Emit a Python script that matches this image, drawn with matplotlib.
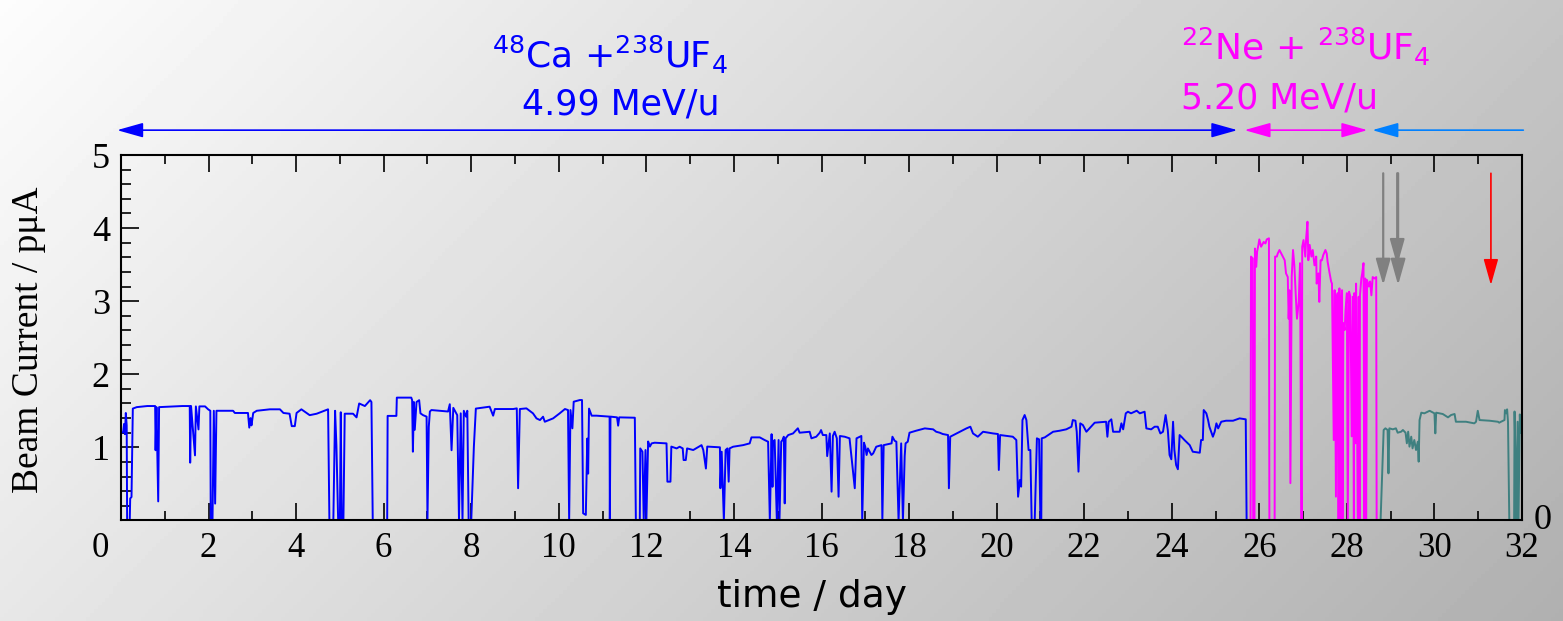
import numpy as np
import matplotlib
matplotlib.use("Agg")
import matplotlib.pyplot as plt
from matplotlib.transforms import ScaledTranslation
from matplotlib.ticker import MultipleLocator

# beam current (pmuA) vs time (day)
blue_pts = [
    (0.02, 1.20), (0.05, 1.21), (0.07, 1.32), (0.09, 1.18), (0.11, 1.47), (0.13, 1.30),
    (0.14, 0.0), (0.20, 0.0), (0.21, 0.30), (0.24, 0.32), (0.27, 1.53), (0.36, 1.55),
    (0.60, 1.565), (0.78, 1.565), (0.79, 0.96), (0.81, 1.55), (0.85, 0.26), (0.87, 1.55),
    (1.2, 1.56), (1.4, 1.565), (1.57, 1.565), (1.58, 0.79), (1.60, 1.565), (1.69, 0.89),
    (1.71, 1.56), (1.77, 1.245), (1.79, 1.56), (1.92, 1.56), (1.99, 1.52), (2.04, 1.50),
    (2.05, 0.0), (2.09, 0.0), (2.12, 1.50), (2.15, 0.23), (2.18, 1.50), (2.56, 1.50),
    (2.60, 1.47), (2.90, 1.47), (2.93, 1.27), (2.96, 1.40), (2.98, 1.30), (3.02, 1.47),
    (3.10, 1.50), (3.40, 1.52), (3.63, 1.52), (3.71, 1.47), (3.85, 1.46), (3.90, 1.29),
    (3.97, 1.29), (4.01, 1.47), (4.12, 1.52), (4.31, 1.44), (4.47, 1.46), (4.73, 1.52),
    (4.76, 0.0), (4.85, 0.0), (4.89, 1.50), (4.92, 1.03), (4.96, 0.0), (5.0, 0.0),
    (5.02, 1.48), (5.04, 0.0), (5.08, 0.0), (5.11, 1.46), (5.30, 1.46), (5.38, 1.41),
    (5.44, 1.60), (5.57, 1.565), (5.69, 1.645), (5.72, 1.62), (5.75, 0.0), (6.08, 0.0),
    (6.09, 1.43), (6.29, 1.43), (6.30, 1.68), (6.63, 1.68), (6.65, 1.645), (6.667, 0.94),
    (6.69, 1.62), (6.71, 1.24), (6.75, 1.62), (6.81, 1.645), (6.84, 1.465), (6.90, 1.44),
    (6.98, 1.42), (7.0, 0.0), (7.03, 1.28), (7.055, 1.49), (7.09, 1.51), (7.47, 1.49),
    (7.51, 1.59), (7.55, 0.96), (7.59, 1.54), (7.68, 1.44), (7.72, 0.0), (7.76, 1.465),
    (7.80, 0.0), (7.83, 1.50), (7.88, 1.42), (7.91, 1.50), (7.94, 0.0), (8.0, 0.0),
    (8.06, 1.01), (8.105, 1.53), (8.42, 1.556), (8.50, 1.433), (8.54, 1.524), (8.96, 1.524),
    (9.04, 1.533), (9.07, 0.44), (9.11, 1.524), (9.26, 1.533), (9.41, 1.465), (9.49, 1.396),
    (9.57, 1.373), (9.64, 1.419), (9.68, 1.35), (9.87, 1.396), (10.02, 1.465), (10.14, 1.524),
    (10.21, 1.51), (10.236, 0.0), (10.266, 1.51), (10.31, 1.26), (10.34, 1.624), (10.48, 1.647),
    (10.53, 1.647), (10.556, 0.097), (10.617, 0.075), (10.65, 1.12), (10.67, 0.64), (10.69, 1.53),
    (10.75, 1.433), (10.86, 1.433), (11.16, 1.42), (11.165, 0.0), (11.18, 1.42), (11.33, 1.41),
    (11.355, 1.296), (11.38, 1.41), (11.736, 1.405), (11.76, 0.0), (11.85, 0.0),
    (11.86, 0.985), (11.91, 0.94), (11.94, 0.0), (11.98, 0.963), (12.0, 0.0), (12.04, 1.08),
    (12.08, 1.01), (12.12, 1.054), (12.19, 1.063), (12.46, 1.054), (12.48, 0.53), (12.55, 0.53),
    (12.57, 1.01), (12.69, 0.985), (12.76, 1.008), (12.83, 0.985), (12.85, 0.826), (12.90, 0.826),
    (12.93, 0.985), (13.07, 0.963), (13.26, 1.03), (13.30, 0.963), (13.36, 0.71), (13.39, 1.01),
    (13.68, 1.0), (13.69, 0.44), (13.72, 0.94), (13.75, 0.35), (13.77, 0.0), (13.81, 0.963),
    (13.85, 0.985), (13.88, 0.53), (13.90, 0.985), (13.98, 1.008), (14.21, 1.03), (14.36, 1.054),
    (14.40, 1.136), (14.59, 1.136), (14.70, 1.10), (14.78, 1.077), (14.82, 0.0), (14.86, 1.18),
    (14.88, 0.46), (14.89, 1.077), (14.93, 1.10), (14.98, 0.0), (15.02, 1.10), (15.04, 0.0),
    (15.08, 1.077), (15.11, 1.10), (15.14, 1.145), (15.16, 0.233), (15.18, 1.123), (15.24, 1.168),
    (15.35, 1.19), (15.46, 1.26), (15.50, 1.20), (15.73, 1.213), (15.77, 1.123), (15.88, 1.145),
    (15.96, 1.20), (15.99, 1.236), (16.03, 1.168), (16.11, 1.168), (16.13, 0.88), (16.19, 1.19),
    (16.23, 0.393), (16.26, 1.155), (16.30, 1.213), (16.35, 1.123), (16.39, 0.324), (16.42, 1.155),
    (16.53, 1.145), (16.64, 1.123), (16.76, 0.44), (16.80, 1.123), (16.91, 1.155), (16.93, 0.0),
    (16.97, 1.063), (17.00, 1.008), (17.03, 0.895), (17.06, 0.985), (17.14, 0.895), (17.18, 0.917),
    (17.25, 1.008), (17.37, 1.03), (17.39, 0.0), (17.42, 1.03), (17.60, 1.054), (17.62, 1.145),
    (17.67, 1.09), (17.71, 1.077), (17.76, 0.0), (17.82, 1.054), (17.86, 0.0), (17.90, 0.88),
    (17.92, 1.054), (17.97, 1.077), (18.01, 1.20), (18.16, 1.227), (18.36, 1.259), (18.55, 1.246),
    (18.62, 1.213), (18.70, 1.20), (18.77, 1.182), (18.89, 1.168), (18.91, 0.44), (18.94, 1.145),
    (19.12, 1.20), (19.31, 1.259), (19.40, 1.282), (19.46, 1.19), (19.57, 1.145), (19.69, 1.213),
    (19.92, 1.19), (20.03, 1.182), (20.05, 0.69), (20.08, 1.168), (20.37, 1.145), (20.45, 1.10),
    (20.49, 0.324), (20.53, 0.553), (20.56, 0.462), (20.59, 1.373), (20.64, 1.442), (20.68, 1.373),
    (20.73, 0.963), (20.77, 0.963), (20.80, 0.0), (20.87, 0.0), (20.92, 1.123), (20.97, 1.109),
    (21.0, 0.0), (21.02, 0.0),
    (21.03, 1.123), (21.10, 1.136), (21.29, 1.213), (21.44, 1.227), (21.59, 1.246), (21.71, 1.282),
    (21.74, 1.373), (21.80, 1.364), (21.83, 1.213), (21.87, 0.667), (21.91, 1.328), (21.97, 1.305),
    (22.05, 1.213), (22.12, 1.259), (22.24, 1.337), (22.50, 1.35), (22.53, 1.145), (22.56, 1.35),
    (22.62, 1.383), (22.66, 1.213), (22.81, 1.213), (22.85, 1.328), (22.89, 1.246), (22.95, 1.465),
    (23.0, 1.487), (23.07, 1.465), (23.15, 1.487), (23.20, 1.501), (23.27, 1.465), (23.38, 1.487),
    (23.42, 1.259), (23.53, 1.246), (23.61, 1.282), (23.68, 1.282), (23.74, 1.19), (23.80, 1.213),
    (23.86, 1.442), (23.91, 1.236), (23.95, 0.895), (23.99, 0.836), (24.03, 1.35), (24.06, 0.963),
    (24.10, 0.758), (24.14, 0.70), (24.18, 1.168), (24.22, 1.145), (24.29, 1.10), (24.41, 1.03),
    (24.48, 0.94), (24.64, 0.926), (24.67, 1.10), (24.71, 1.10), (24.73, 1.51), (24.79, 1.465),
    (24.83, 1.373), (24.86, 1.282), (24.94, 1.145), (24.98, 1.213), (25.02, 1.328), (25.06, 1.259),
    (25.13, 1.35), (25.24, 1.364), (25.40, 1.364), (25.55, 1.396), (25.69, 1.383), (25.71, 0.0),
]

magenta_pts = [
    (25.80, 0.0), (25.81, 3.61), (25.85, 3.585), (25.86, 0.0), (25.89, 0.0), (25.90, 3.72),
    (25.93, 3.47), (25.95, 3.68), (25.98, 3.77), (26.0, 3.845), (26.04, 3.745), (26.10, 3.81),
    (26.14, 3.79), (26.17, 3.845), (26.22, 3.86), (26.23, 0.0), (26.35, 0.0), (26.36, 3.61),
    (26.40, 3.61), (26.42, 3.65), (26.46, 3.70), (26.52, 3.63), (26.58, 3.56), (26.61, 3.38),
    (26.65, 3.33), (26.67, 2.76), (26.69, 3.15), (26.71, 0.51), (26.74, 3.33), (26.77, 3.70),
    (26.80, 3.49), (26.84, 2.99), (26.86, 2.76), (26.90, 2.99), (26.93, 3.52), (26.96, 0.0),
    (26.97, 0.0), (26.98, 3.745), (27.01, 3.836), (27.05, 3.61), (27.07, 3.86), (27.10, 4.087),
    (27.12, 3.56), (27.15, 3.77), (27.19, 3.61), (27.22, 3.70), (27.26, 3.49), (27.30, 3.61),
    (27.31, 3.24), (27.35, 3.38), (27.37, 2.99), (27.40, 3.56), (27.43, 3.56), (27.46, 3.63),
    (27.51, 3.70), (27.54, 3.65), (27.56, 3.54), (27.60, 3.40), (27.64, 3.27), (27.66, 3.24),
    (27.70, 1.10), (27.72, 3.15), (27.75, 0.325), (27.77, 3.05), (27.79, 3.11), (27.81, 0.0),
    (27.83, 3.175), (27.85, 0.0), (27.87, 2.88), (27.89, 3.15), (27.90, 0.0), (27.92, 2.70),
    (27.95, 2.605), (27.97, 2.88), (28.0, 3.11), (28.02, 0.0), (28.05, 3.13), (28.08, 3.06),
    (28.11, 1.15), (28.14, 3.06), (28.16, 0.0), (28.17, 3.11), (28.20, 1.055), (28.21, 3.24),
    (28.25, 0.0), (28.27, 3.06), (28.29, 0.0), (28.30, 3.08), (28.33, 3.31), (28.35, 3.38),
    (28.38, 3.52), (28.40, 0.0), (28.42, 3.31), (28.44, 0.0), (28.46, 3.29), (28.50, 3.20),
    (28.53, 3.27), (28.56, 3.08), (28.59, 3.33), (28.63, 3.31), (28.67, 3.33), (28.68, 0.0),
]

teal_pts = [
    (28.77, 0.0), (28.84, 1.237), (28.88, 1.26), (28.93, 1.237), (28.95, 0.644), (28.97, 1.26),
    (29.05, 1.246), (29.12, 1.26), (29.16, 1.20), (29.24, 1.214), (29.28, 1.237), (29.34, 1.20),
    (29.37, 1.055), (29.40, 1.214), (29.43, 1.009), (29.47, 1.146), (29.50, 0.986), (29.54, 1.10),
    (29.58, 0.963), (29.62, 1.077), (29.64, 0.804), (29.66, 1.373), (29.70, 1.474), (29.77, 1.465),
    (29.89, 1.50), (30.0, 1.465), (30.02, 1.191), (30.04, 1.474), (30.19, 1.456), (30.31, 1.41),
    (30.38, 1.442), (30.46, 1.456), (30.49, 1.35), (30.72, 1.35), (30.91, 1.328), (30.95, 1.35),
    (30.99, 1.50), (31.03, 1.373), (31.26, 1.364), (31.45, 1.35), (31.48, 1.337), (31.52, 1.35),
    (31.60, 1.373), (31.61, 1.51), (31.64, 1.465), (31.66, 1.52), (31.68, 1.35), (31.71, 0.0),
    (31.82, 0.0), (31.83, 1.49), (31.85, 0.9), (31.87, 0.0), (31.90, 1.35), (31.92, 0.0),
    (31.95, 1.45), (31.97, 1.2),
]

# marker arrows (day, tip current)
gray_arrows = [(28.83, 3.22), (29.15, 3.49), (29.17, 3.22)]
red_arrows = [(31.29, 3.22)]
arrow_top = 4.75

# period bars along the top (start, end) in days
bar_y = 5.34
ca_period = (-0.09, 25.5)
ne_period = (25.66, 28.47)
last_period = (28.58, 32.03)

W, H = 1563, 621
fig = plt.figure(figsize=(W / 100, H / 100), dpi=100)

# grey gradient background
bg = fig.add_axes([0, 0, 1, 1], zorder=-10)
gx, gy = np.meshgrid(np.linspace(0, 1, 400), np.linspace(0, 1, 160))
shade = 0.99 - 0.30 * (0.72 * gx + 0.28 * gy)
bg.imshow(shade, cmap="gray", vmin=0, vmax=1, aspect="auto", extent=[0, 1, 1, 0])
bg.set_xlim(0, 1)
bg.set_ylim(1, 0)
bg.axis("off")

ax = fig.add_axes([121 / W, 1 - 520.4 / H, 1401 / W, 365.4 / H])
ax.set_facecolor("none")

b = np.array(blue_pts).T
m = np.array(magenta_pts).T
t = np.array(teal_pts).T
ax.plot(b[0], b[1], color="#0000ff", lw=1.4)
ax.plot(m[0], m[1], color="#ff00ff", lw=1.4)
ax.plot(t[0], t[1], color="#3f8080", lw=1.4)

ax.set_xlim(0, 32)
ax.set_ylim(0, 5)

serif = "Liberation Serif"
ax.set_xticks(np.arange(0, 33, 2))
ax.set_xticklabels([str(v) for v in range(0, 33, 2)], fontfamily=serif, fontsize=25)
ax.xaxis.set_minor_locator(MultipleLocator(1))
ax.set_yticks([1, 2, 3, 4, 5])
ax.set_yticklabels(["1", "2", "3", "4", "5"], fontfamily=serif, fontsize=26)
ax.yaxis.set_minor_locator(MultipleLocator(0.2))
ax.tick_params(axis="x", which="both", direction="in", top=True, bottom=True, width=1.2, pad=8)
ax.tick_params(axis="x", which="major", length=12)
ax.tick_params(axis="x", which="minor", length=6.5)
ax.tick_params(axis="y", which="both", direction="in", left=True, right=False, width=1.2, pad=8)
ax.tick_params(axis="y", which="major", length=13)
ax.tick_params(axis="y", which="minor", length=7)
for s in ax.spines.values():
    s.set_linewidth(1.5)

# first x label sits left of the frame in the original
lab0 = ax.get_xticklabels()[0]
lab0.set_transform(lab0.get_transform() + ScaledTranslation(-0.21, 0, fig.dpi_scale_trans))
ax.text(32.47, 0.0, "0", fontfamily=serif, fontsize=26, ha="center", va="center", clip_on=False)

fig.text(29 / W, 1 - 340 / H, "Beam Current / pμA", rotation=90, ha="center", va="center",
         fontfamily=serif, fontsize=27)
fig.text(812 / W, 1 - 597 / H, "time / day", ha="center", va="center",
         fontfamily="DejaVu Sans", fontsize=27)

# reaction labels
ax.text(11.16, 6.19, r"$^{48}$Ca +$^{238}$UF$_4$", color="#0000ff", fontsize=26,
        ha="center", va="baseline", clip_on=False)
ax.text(11.42, 5.55, "4.99 MeV/u", color="#0000ff", fontsize=25,
        ha="center", va="baseline", clip_on=False)
ax.text(24.22, 6.30, r"$^{22}$Ne + $^{238}$UF$_4$", color="#ff00ff", fontsize=26,
        ha="left", va="baseline", clip_on=False)
ax.text(24.22, 5.64, "5.20 MeV/u", color="#ff00ff", fontsize=25,
        ha="left", va="baseline", clip_on=False)

def bar(x0, x1, color, style):
    ax.annotate("", xy=(x1, bar_y), xytext=(x0, bar_y), annotation_clip=False,
                arrowprops=dict(arrowstyle=style + ",head_length=1.6,head_width=0.45",
                                mutation_scale=10, color=color, lw=1.2,
                                shrinkA=0, shrinkB=0))

bar(ca_period[0], ca_period[1], "#0000ff", "<|-|>")
bar(ne_period[0], ne_period[1], "#ff00ff", "<|-|>")
bar(last_period[1], last_period[0], "#0080ff", "-|>")

for x, tip in gray_arrows:
    ax.annotate("", xy=(x, tip), xytext=(x, arrow_top),
                arrowprops=dict(arrowstyle="-|>,head_length=1.6,head_width=0.45",
                                mutation_scale=10, color="#808080", lw=1.6,
                                shrinkA=0, shrinkB=0))
for x, tip in red_arrows:
    ax.annotate("", xy=(x, tip), xytext=(x, arrow_top),
                arrowprops=dict(arrowstyle="-|>,head_length=1.6,head_width=0.45",
                                mutation_scale=10, color="#ff0000", lw=1.2,
                                shrinkA=0, shrinkB=0))

fig.savefig("out.png", dpi=100)
